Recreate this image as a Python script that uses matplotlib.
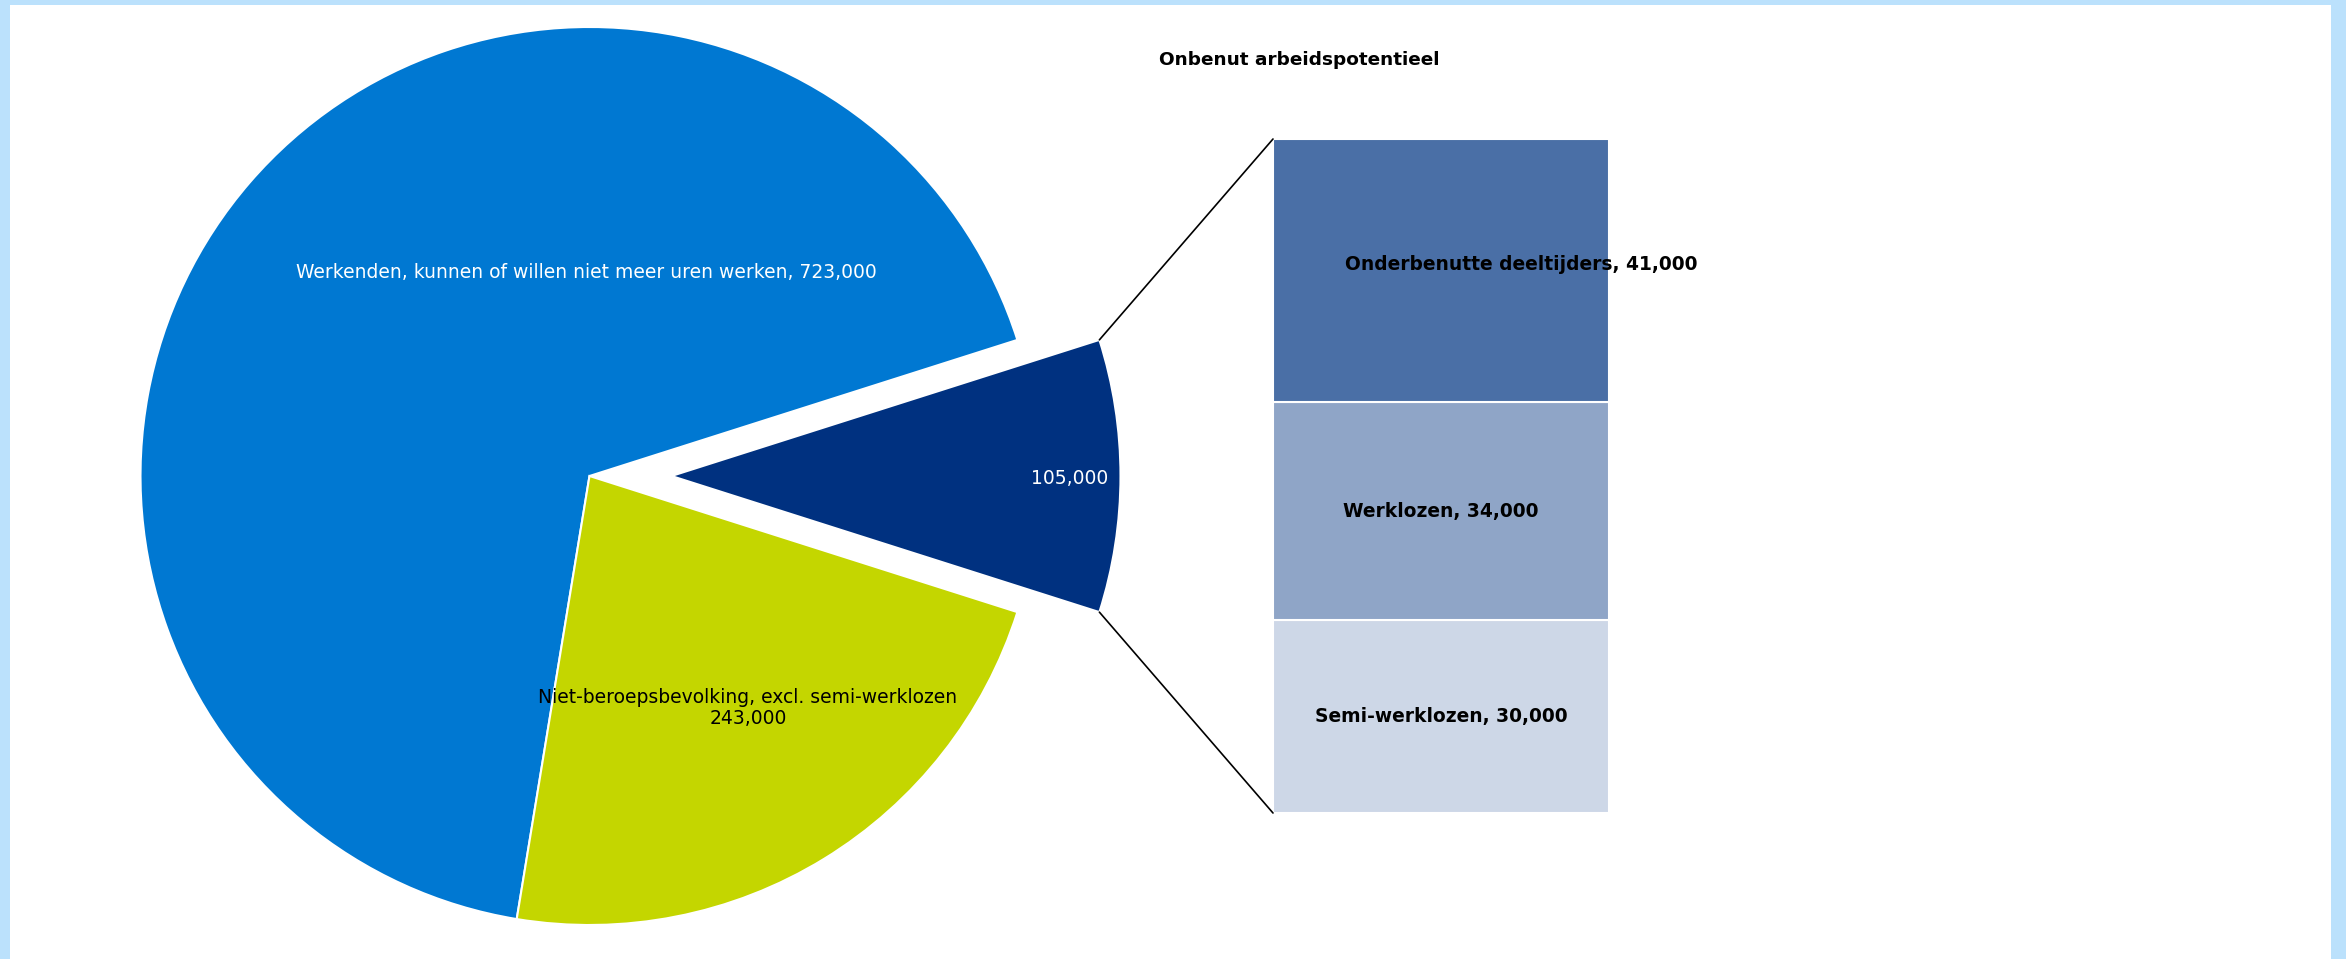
import numpy as np
import matplotlib
matplotlib.use("Agg")
import matplotlib.pyplot as plt
from matplotlib.patches import ConnectionPatch

# ---- data ----
pie_labels = ["Werkenden, kunnen of willen niet meer uren werken",
              "Niet-beroepsbevolking, excl. semi-werklozen",
              "Onbenut arbeidspotentieel"]
pie_values = [723000, 243000, 105000]
bar_labels = ["Semi-werklozen", "Werklozen", "Onderbenutte deeltijders"]
bar_values = [30000, 34000, 41000]
title = "Onbenut arbeidspotentieel"

# ---- styles ----
pie_colors = ["#0078D2", "#C4D600", "#003180"]
bar_colors = ["#CDD7E7", "#8FA5C7", "#4A6FA6"]
border = "#BBE1FC"

W, H = 2346, 959
fig = plt.figure(figsize=(W / 100, H / 100), dpi=100)
fig.patch.set_facecolor(border)

# pie axes in pixel-like data coordinates over the white area
x0, x1, ytop = 10, 2331, 954
ax = fig.add_axes([x0 / W, 0, (x1 - x0) / W, ytop / H])
ax.set_facecolor("white")

# order: dark slice first (centered on 0 deg), then counterclockwise
order = [2, 0, 1]
vals = [pie_values[i] for i in order]
cols = [pie_colors[i] for i in order]
total = sum(pie_values)
start = -180.0 * pie_values[2] / total
cx, cy, R = 589.5, H - 476, 449
wedges, _ = ax.pie(vals, colors=cols, startangle=start, counterclock=True,
                   explode=[82, 0, 0], center=(cx, cy), radius=R,
                   wedgeprops=dict(edgecolor="white", linewidth=1.5),
                   frame=True)
ax.set_xlim(x0, x1)
ax.set_ylim(0, ytop)
ax.set_aspect("auto")
ax.set_xticks([]); ax.set_yticks([])
for s in ax.spines.values():
    s.set_visible(False)

fs = 13.5
ax.text(586, H - 273, f"{pie_labels[0]}, {pie_values[0]:,}", color="white",
        ha="center", va="center", fontsize=fs)
ax.text(748, H - 708, f"{pie_labels[1]}\n{pie_values[1]:,}", color="black",
        ha="center", va="center", fontsize=fs, linespacing=1.1)
ax.text(1070, H - 478, f"{pie_values[2]:,}", color="white",
        ha="center", va="center", fontsize=fs)
ax.text(1299, H - 60, title, color="black", ha="center", va="center",
        fontsize=13.3, fontweight="bold")

# stacked bar
bx0, bx1, by0, by1 = 1273, 1609, 813, 139
bax = fig.add_axes([bx0 / W, (H - by0) / H, (bx1 - bx0) / W, (by0 - by1) / H])
bax.set_xlim(-0.5, 0.5)
bax.set_ylim(0, sum(bar_values))
bax.axis("off")
bottoms = np.concatenate([[0], np.cumsum(bar_values)[:-1]])
bax.bar([0] * len(bar_values), bar_values, bottom=bottoms, width=1.0,
        color=bar_colors, edgecolor="white", linewidth=1.5)
label_x = [0, 0, 0.24]
label_dy = [0, 0, 1000]
for lab, v, b, lx, dy in zip(bar_labels, bar_values, bottoms, label_x, label_dy):
    bax.text(lx, b + v / 2 + dy, f"{lab}, {v:,}", ha="center", va="center",
             fontsize=13.4, fontweight="bold", color="black", clip_on=False)

# connector lines from exploded wedge corners to bar corners
w = wedges[0]
wc = w.center
for ang, yb in [(w.theta2, sum(bar_values)), (w.theta1, 0)]:
    px = wc[0] + R * np.cos(np.radians(ang))
    py = wc[1] + R * np.sin(np.radians(ang))
    con = ConnectionPatch(xyA=(px, py), coordsA=ax.transData,
                          xyB=(-0.5, yb), coordsB=bax.transData,
                          color="black", linewidth=1.2)
    fig.add_artist(con)

fig.savefig("out.png", dpi=100, facecolor=fig.get_facecolor())
